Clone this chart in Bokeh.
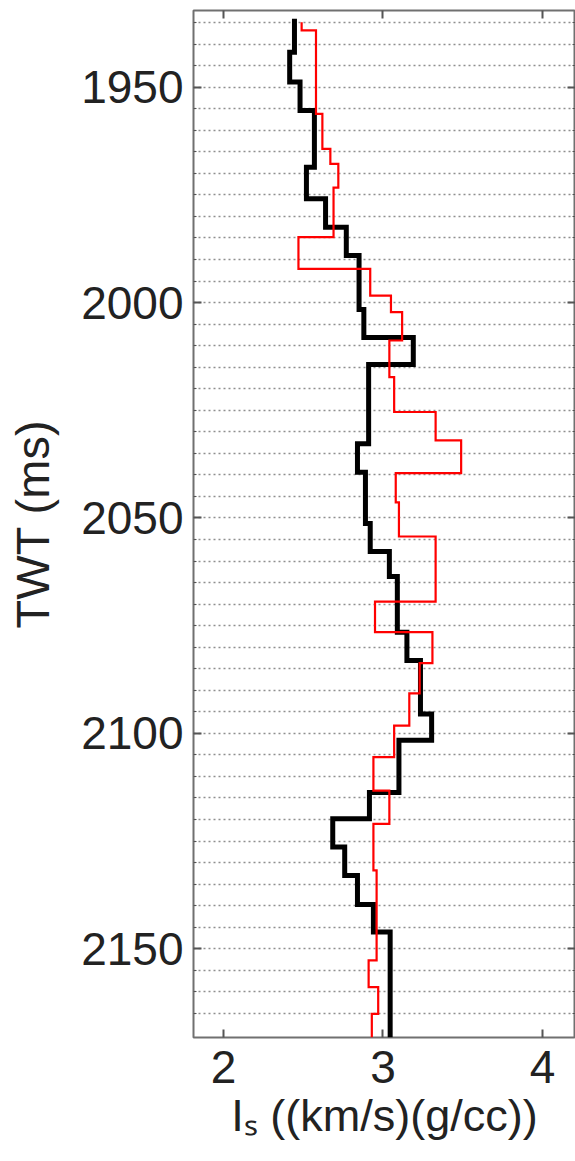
from bokeh.plotting import figure
from bokeh.models import Range1d, FixedTicker, LinearAxis
from bokeh.embed import file_html
from bokeh.resources import INLINE

# ---- data ----
# black log: TWT boundaries (ms) and Is values ((km/s)(g/cc)) for each interval
black_twt = [1934.1, 1941.9, 1948.8, 1955.4, 1968.6, 1975.9, 1982.5, 1989.1, 2001.6,
             2008.1, 2014.4, 2032.8, 2039.4, 2051.3, 2057.8, 2063.6, 2076.5, 2083.1,
             2095.5, 2101.6, 2113.7, 2119.8, 2126.4, 2133.0, 2139.7, 2146.1, 2170.6]
black_is = [2.445, 2.415, 2.48, 2.57, 2.52, 2.64, 2.77, 2.85, 2.88, 3.19, 2.91, 2.84,
            2.89, 2.92, 3.04, 3.09, 3.15, 3.235, 3.305, 3.10, 2.915, 2.685, 2.76, 2.84,
            2.94, 3.045]

# red log
red_twt = [1934.9, 1936.8, 1956.2, 1964.3, 1967.8, 1973.3, 1984.8, 1992.2, 1998.4,
           2002.2, 2008.8, 2017.3, 2025.4, 2032.0, 2039.6, 2046.4, 2054.3, 2069.4,
           2076.5, 2083.7, 2090.7, 2098.2, 2105.5, 2113.3, 2121.0, 2131.8, 2152.7,
           2158.9, 2165.1, 2170.6]
red_is = [2.49, 2.58, 2.62, 2.67, 2.72, 2.69, 2.47, 2.92, 3.05, 3.12, 3.04, 3.07,
          3.33, 3.49, 3.08, 3.10, 3.33, 2.95, 3.31, 3.23, 3.165, 3.07, 2.94, 3.04,
          2.94, 2.96, 2.91, 2.97, 2.93]

y_major_ticks = [1950, 2000, 2050, 2100, 2150]
y_minor_ticks = [1935, 1940, 1945, 1950, 1955, 1960, 1965, 1970, 1975, 1980, 1985,
                 1990, 1995, 2000, 2005, 2010, 2015, 2020, 2025, 2030, 2035, 2040,
                 2045, 2050, 2055, 2060, 2065, 2070, 2075, 2080, 2085, 2090, 2095,
                 2100, 2105, 2110, 2115, 2120, 2125, 2130, 2135, 2140, 2145, 2150,
                 2155, 2160, 2165]
x_major_ticks = [2, 3, 4]

y_label = "TWT (ms)"
x_label = "I\u209b ((km/s)(g/cc))"   # I with subscript s


def step_path(twt, vals):
    xs, ys = [], []
    for i, v in enumerate(vals):
        xs += [v, v]
        ys += [twt[i], twt[i + 1]]
    return xs, ys


FONT = "Liberation Sans"
TXT = "#222222"
TICK = "#555555"

p = figure(width=575, height=1161,
           frame_width=382, frame_height=1027,
           min_border_left=193, min_border_right=0,
           min_border_top=10, min_border_bottom=124,
           x_range=Range1d(1.812, 4.207), y_range=Range1d(2170.6, 1932.2),
           output_backend="svg", toolbar_location=None,
           background_fill_color="white", border_fill_color="white",
           outline_line_color="#707070", outline_line_width=2)
p.title.visible = False

# grid: dotted horizontal lines every 5 ms
p.xgrid.visible = False
p.ygrid.ticker = FixedTicker(ticks=y_minor_ticks)
p.ygrid.grid_line_color = "#8f8f8f"
p.ygrid.grid_line_dash = "2 3"
p.ygrid.grid_line_width = 1.3

# left axis
ya = p.yaxis[0]
ya.ticker = FixedTicker(ticks=y_major_ticks, minor_ticks=y_minor_ticks)
ya.axis_line_color = None
ya.major_tick_in = 8
ya.major_tick_out = 0
ya.minor_tick_in = 3
ya.minor_tick_out = 0
ya.major_tick_line_color = TICK
ya.minor_tick_line_color = TICK
ya.major_tick_line_width = 2
ya.major_label_text_font = FONT
ya.major_label_text_font_size = "46px"
ya.major_label_text_color = TXT
ya.major_label_standoff = 10
ya.axis_label = y_label
ya.axis_label_text_font = FONT
ya.axis_label_text_font_size = "47px"
ya.axis_label_text_font_style = "normal"
ya.axis_label_text_color = TXT
ya.axis_label_standoff = 19

# bottom axis
xa = p.xaxis[0]
xa.ticker = FixedTicker(ticks=x_major_ticks, minor_ticks=[])
xa.axis_line_color = None
xa.major_tick_in = 8
xa.major_tick_out = 0
xa.minor_tick_line_color = None
xa.major_tick_line_color = TICK
xa.major_tick_line_width = 2
xa.major_label_text_font = FONT
xa.major_label_text_font_size = "46px"
xa.major_label_text_color = TXT
xa.major_label_standoff = 13
xa.axis_label = x_label
xa.axis_label_text_font = FONT
xa.axis_label_text_font_size = "45px"
xa.axis_label_text_font_style = "normal"
xa.axis_label_text_color = TXT
xa.axis_label_standoff = 4

# top and right axes: ticks only
top = LinearAxis(ticker=FixedTicker(ticks=x_major_ticks, minor_ticks=[]),
                 axis_line_color=None, major_tick_in=8, major_tick_out=0,
                 minor_tick_line_color=None, major_tick_line_color=TICK,
                 major_tick_line_width=2,
                 major_label_overrides={t: "" for t in x_major_ticks},
                 major_label_text_font_size="0px", major_label_standoff=0)
p.add_layout(top, "above")
right = LinearAxis(ticker=FixedTicker(ticks=y_major_ticks, minor_ticks=y_minor_ticks),
                   axis_line_color=None, major_tick_in=8, major_tick_out=0,
                   minor_tick_in=3, minor_tick_out=0,
                   major_tick_line_color=TICK, minor_tick_line_color=TICK,
                   major_tick_line_width=2,
                   major_label_overrides={t: "" for t in y_major_ticks},
                   major_label_text_font_size="0px", major_label_standoff=0)
p.add_layout(right, "right")

# curves
bx, by = step_path(black_twt, black_is)
rx, ry = step_path(red_twt, red_is)
p.line(bx, by, line_color="black", line_width=5, line_join="miter")
p.line(rx, ry, line_color="#ff0000", line_width=2.2, line_join="miter")

open("out.html", "w").write(file_html(p, INLINE))
